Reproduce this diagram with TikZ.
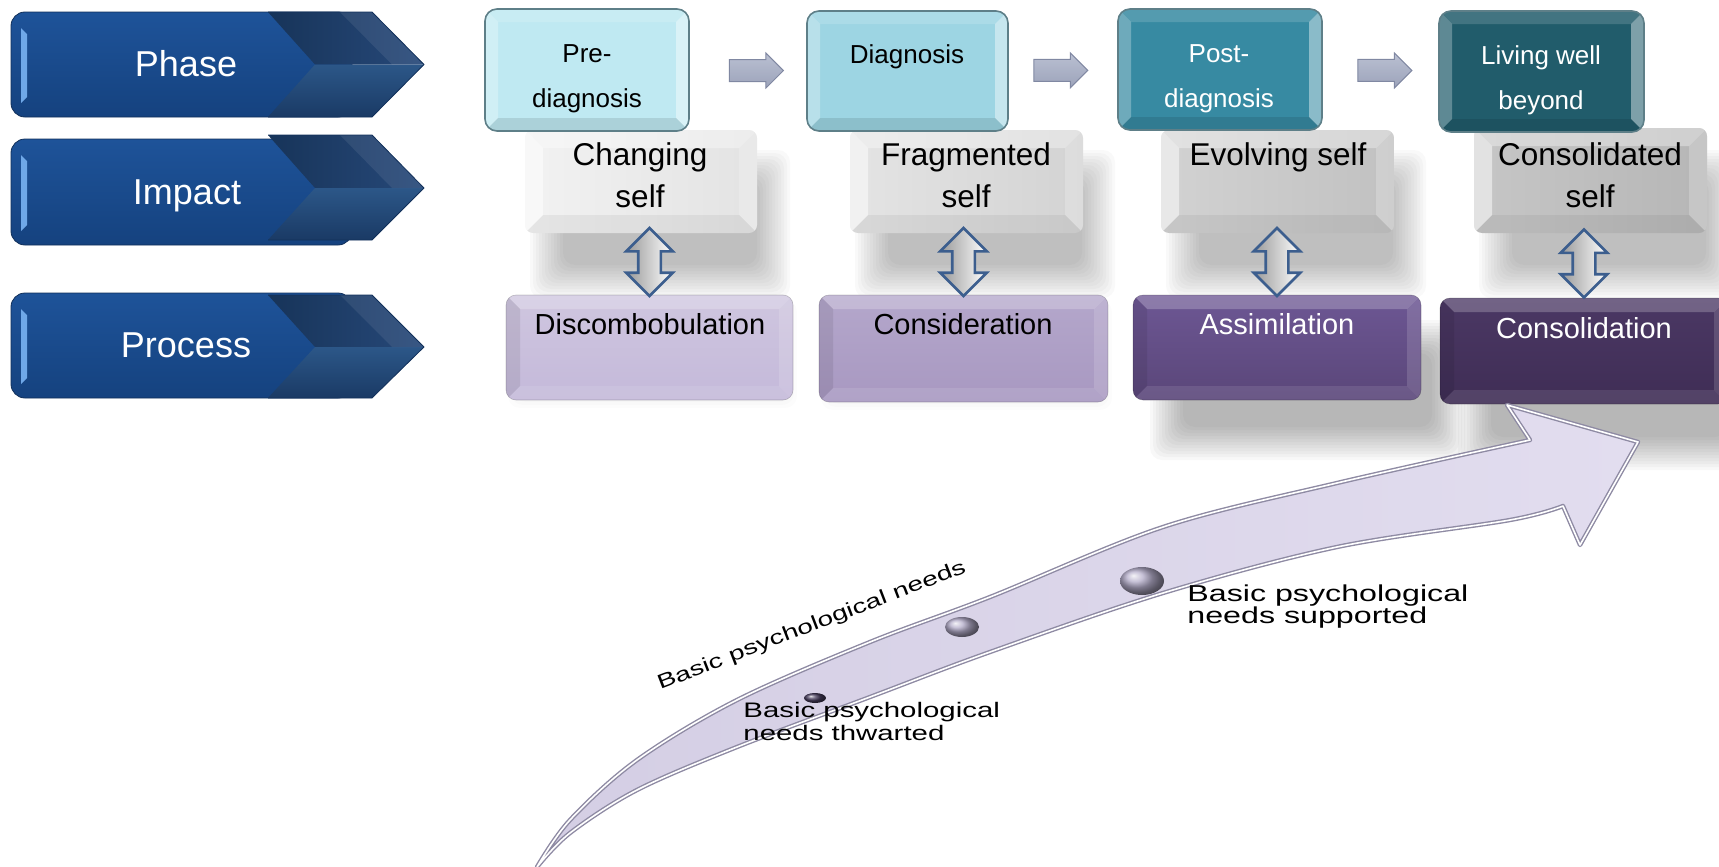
\documentclass[tikz,border=0pt]{standalone}
\usepackage{fontspec}
\setmainfont{Liberation Sans}
\newfontfamily\widesans[FakeStretch=1.4]{Liberation Sans}
\usetikzlibrary{shapes.arrows,fit}

% chevron labels
\definecolor{chevA}{HTML}{1E5399}
\definecolor{chevB}{HTML}{15427F}
\definecolor{chevEdge}{HTML}{12305A}
\definecolor{chevHi}{HTML}{6FA8E8}
\definecolor{facetA}{HTML}{173459}
\definecolor{facetB}{HTML}{27497A}
\definecolor{facetC}{HTML}{2C5788}
\definecolor{facetD}{HTML}{1A3A65}
% phase boxes
\definecolor{phA}{HTML}{BFE9F2}
\definecolor{phB}{HTML}{9DD5E3}
\definecolor{phC}{HTML}{378AA2}
\definecolor{phD}{HTML}{215C6B}
\definecolor{phEdge}{HTML}{5E7F88}
% impact boxes
\definecolor{imA1}{HTML}{F2F2F2}\definecolor{imA2}{HTML}{E3E3E3}
\definecolor{imB1}{HTML}{E4E4E4}\definecolor{imB2}{HTML}{D3D3D3}
\definecolor{imC1}{HTML}{D2D2D2}\definecolor{imC2}{HTML}{C1C1C1}
\definecolor{imD1}{HTML}{C6C6C6}\definecolor{imD2}{HTML}{B6B6B6}
% process boxes
\definecolor{prA1}{HTML}{CFC6DF}\definecolor{prA2}{HTML}{C4B9DA}
\definecolor{prB1}{HTML}{B4A7CB}\definecolor{prB2}{HTML}{A898C1}
\definecolor{prC1}{HTML}{6D5794}\definecolor{prC2}{HTML}{5A4679}
\definecolor{prD1}{HTML}{4B3864}\definecolor{prD2}{HTML}{3F2D55}
% connectors
\definecolor{gaTop}{HTML}{BAC0D2}
\definecolor{gaBot}{HTML}{9CA3BA}
\definecolor{gaEdge}{HTML}{8088A2}
\definecolor{dblEdge}{HTML}{3C5E8E}
% needs arrow
\definecolor{naA}{HTML}{D4CEE4}
\definecolor{naB}{HTML}{E2DDEF}
\definecolor{naEdge}{HTML}{8E8AA3}
\definecolor{bead}{HTML}{B3ACC9}
\definecolor{beadDark}{HTML}{463C5C}

\tikzset{
  ph-shape/.style={rounded corners=6pt},
  ph-top/.style={fill=white, fill opacity=0.15},
  ph-left/.style={fill=white, fill opacity=0.28},
  ph-right/.style={fill=white, fill opacity=0.42},
  ph-bot/.style={fill=black, fill opacity=0.10},
  ph-edge/.style={draw=phEdge, line width=0.8pt},
  im-shape/.style={rounded corners=4pt},
  im-top/.style={fill=white, fill opacity=0.35},
  im-left/.style={fill=white, fill opacity=0.5},
  im-right/.style={fill=white, fill opacity=0.22},
  im-bot/.style={fill=black, fill opacity=0.05},
  im-edge/.style={draw=none},
  pr-shape/.style={rounded corners=5pt},
  pr-top/.style={fill=white, fill opacity=0.22},
  pr-left/.style={fill=black, fill opacity=0.08},
  pr-right/.style={fill=white, fill opacity=0.14},
  pr-bot/.style={fill=white, fill opacity=0.10},
  pr-edge/.style={draw=black, draw opacity=0.2, line width=0.3pt},
  lbl/.style={text=white, font=\fontsize{18}{22}\selectfont, inner sep=0pt, anchor=base},
  phtxt/.style={font=\fontsize{13}{22.5}\selectfont, align=center, inner sep=0pt},
  imtxt/.style={font=\fontsize{15.75}{21}\selectfont, align=center, inner sep=0pt},
  prtxt/.style={font=\fontsize{14.5}{18}\selectfont, inner sep=0pt, anchor=base},
  grayarrow/.style={single arrow, minimum height=27pt, minimum width=17pt,
    single arrow head extend=3.25pt, inner xsep=0pt, inner ysep=5.25pt, top color=gaTop,
    bottom color=gaBot, draw=gaEdge, line width=0.5pt},
  dblarrow/.style={double arrow, rotate=90, minimum height=34pt, minimum width=22pt,
    double arrow head extend=6pt, inner xsep=0pt, inner ysep=5pt, draw=dblEdge, line width=1.3pt,
    left color=black!40, right color=white},
  needsarrow/.style={left color=naA, right color=naB},
  needstxt/.style={inner sep=0pt, align=left},
}

% bevelled box: name, x1, y1, x2, y2, base fill, bevel width, style family
\newcommand\bevelbox[8]{%
  \node[fit={(#2,#3) (#4,#5)}, inner sep=0pt, outer sep=0pt] (#1) {};
  \begin{scope}
    \clip[#8-shape] (#2,#3) rectangle (#4,#5);
    \path[#6] (#2,#3) rectangle (#4,#5);
    \fill[#8-top] (#2,#3) -- (#4,#3) -- (#4-#7,#3+#7) -- (#2+#7,#3+#7) -- cycle;
    \fill[#8-left] (#2,#3) -- (#2+#7,#3+#7) -- (#2+#7,#5-#7) -- (#2,#5) -- cycle;
    \fill[#8-right] (#4,#3) -- (#4-#7,#3+#7) -- (#4-#7,#5-#7) -- (#4,#5) -- cycle;
    \fill[#8-bot] (#2,#5) -- (#2+#7,#5-#7) -- (#4-#7,#5-#7) -- (#4,#5) -- cycle;
  \end{scope}
  \path[#8-shape, #8-edge] (#2,#3) rectangle (#4,#5);
}

% soft blurred shadow: x1, y1, x2, y2, opacity per layer
\newcommand\softshadow[5]{%
  \foreach \k in {0,...,11}{%
    \fill[black, fill opacity=#5, rounded corners=6pt]
      (#1+3*\k,#2+3*\k) rectangle (#3-3*\k,#4-3*\k);
  }%
}

% chevron label bar: rect top, rect bottom, chevron top, chevron bottom, tip y
\newcommand\chevronbar[5]{%
  \path[top color=chevA, bottom color=chevB, draw=chevEdge, line width=0.4pt,
        rounded corners=7pt] (11,#1) rectangle (352,#2);
  \fill[chevHi] (21,#1+16) -- (27,#1+22) -- (27,#2-20) -- (21,#2-14) -- cycle;
  \path[left color=facetA, right color=facetB] (268,#3) -- (372,#3) -- (424,#5) -- (315,#5) -- cycle;
  \path[top color=facetC, bottom color=facetD] (315,#5) -- (424,#5) -- (372,#4) -- (268,#4) -- cycle;
  \fill[white, fill opacity=0.08] (340,#3) -- (372,#3) -- (424,#5) -- (392,#5) -- cycle;
  \draw[chevEdge, line width=0.4pt, line join=round]
    (268,#3) -- (372,#3) -- (424,#5) -- (372,#4) -- (268,#4);
}

\begin{document}
\begin{tikzpicture}[x=0.5pt,y=-0.5pt]
\useasboundingbox (0,0) rectangle (1719,867);
\clip (0,0) rectangle (1719,867);

% ---- row labels
\chevronbar{12}{117}{12}{117}{64.5}
\chevronbar{139}{245}{135}{240}{188}
\chevronbar{293}{398}{295}{398}{347}
\node[lbl] (lphase) at (186,76) {Phase};
\node[lbl] (limpact) at (187,204) {Impact};
\node[lbl] (lprocess) at (186,357) {Process};

% ---- shadows
\softshadow{530}{150}{790}{298}{0.022}
\softshadow{855}{150}{1115}{298}{0.022}
\softshadow{1166}{150}{1426}{298}{0.024}
\softshadow{1479}{150}{1739}{298}{0.024}
\softshadow{508}{300}{797}{408}{0.012}
\softshadow{821}{300}{1112}{410}{0.012}
\softshadow{1150}{320}{1465}{460}{0.026}
\softshadow{1458}{325}{1760}{470}{0.026}

% ---- impact boxes
\bevelbox{i1}{525}{130}{757}{233}{left color=imA1, right color=imA2}{18}{im}
\bevelbox{i2}{850}{130}{1083}{233}{left color=imB1, right color=imB2}{18}{im}
\bevelbox{i3}{1161}{130}{1394}{233}{left color=imC1, right color=imC2}{18}{im}
\bevelbox{i4}{1474}{128}{1707}{233}{left color=imD1, right color=imD2}{18}{im}

% ---- phase boxes
\bevelbox{p1}{485}{9}{689}{131}{fill=phA}{13}{ph}
\bevelbox{p2}{807}{11}{1008}{131}{fill=phB}{13}{ph}
\bevelbox{p3}{1118}{9}{1322}{130}{fill=phC}{13}{ph}
\bevelbox{p4}{1439}{11}{1644}{132}{fill=phD}{13}{ph}

% ---- process boxes
\bevelbox{r1}{506}{295}{793}{400}{top color=prA1, bottom color=prA2}{14}{pr}
\bevelbox{r2}{819}{295}{1108}{402}{top color=prB1, bottom color=prB2}{14}{pr}
\bevelbox{r3}{1133}{295}{1421}{400}{top color=prC1, bottom color=prC2}{14}{pr}
\bevelbox{r4}{1440}{298}{1728}{404}{top color=prD1, bottom color=prD2}{14}{pr}

% ---- box texts
\node[phtxt, anchor=north] (tp1) at (587,44.3) {Pre-\\diagnosis};
\node[phtxt, anchor=base] (tp2) at (907,63) {Diagnosis};
\node[phtxt, anchor=north, text=white] (tp3) at (1219,44.3) {Post-\\diagnosis};
\node[phtxt, anchor=north, text=white] (tp4) at (1541,45.3) {Living well\\beyond};

\node[imtxt, anchor=north] (ti1) at (640,142.3) {Changing\\self};
\node[imtxt, anchor=north] (ti2) at (966,142.3) {Fragmented\\self};
\node[imtxt, anchor=base] (ti3) at (1278,165) {Evolving self};
\node[imtxt, anchor=north] (ti4) at (1590,142.3) {Consolidated\\self};

\node[prtxt] (tr1) at (650,334) {Discombobulation};
\node[prtxt] (tr2) at (963,334) {Consideration};
\node[prtxt, text=white] (tr3) at (1277,334) {Assimilation};
\node[prtxt, text=white] (tr4) at (1584,338) {Consolidation};

% ---- phase-to-phase arrows
\path (p1.east) -- (p2.west) node[pos=0.525, grayarrow] (a12) {};
\path (p2.east) -- (p3.west) node[pos=0.43, grayarrow] (a23) {};
\path (p3.east) -- (p4.west) node[pos=0.49, grayarrow] (a34) {};

% ---- impact <-> process arrows
\path (i1.south -| r1.north) -- (r1.north) node[midway, yshift=1pt, dblarrow] (d1) {};
\path (i2.south -| r2.north) -- (r2.north) node[midway, yshift=1pt, dblarrow] (d2) {};
\path (i3.south -| r3.north) -- (r3.north) node[midway, yshift=1pt, dblarrow] (d3) {};
\path (i4.south -| r4.north) -- (r4.north) node[midway, yshift=1pt, dblarrow] (d4) {};

% ---- rising needs arrow
\def\needspath{(537,867) -- plot[smooth, tension=0.55] coordinates {(537,867) (570,820) (637,760) (737,700) (870,642) (990,597) (1163,527) (1337,483) (1530,440)}
  -- (1507,405) -- (1638,442) -- (1580,545) -- (1563,506)
  -- plot[smooth, tension=0.55] coordinates {(1563,506) (1510,520) (1337,547) (1163,593) (990,652) (870,697) (737,747) (637,790) (570,833) (537,867)} -- cycle}
\path[needsarrow] \needspath;
\draw[naEdge, line width=2.2pt, line join=round] \needspath;
\draw[white, line width=0.8pt, line join=round] \needspath;

% beads on the arrow
\shade[ball color=beadDark] (815,698) ellipse [x radius=11, y radius=5];
\shade[ball color=bead] (962,627) ellipse [x radius=17, y radius=10];
\shade[ball color=bead] (1142,581) ellipse [x radius=22, y radius=14];

% ---- arrow labels
\node[needstxt, font=\widesans\fontsize{10}{12}\selectfont, anchor=base west, rotate=21] (needs) at (660,690) {Basic psychological needs};
\node[needstxt, font=\widesans\fontsize{10.5}{11.5}\selectfont, anchor=north west] (thw) at (743,702) {Basic psychological\\needs thwarted};
\node[needstxt, font=\widesans\fontsize{11.5}{11}\selectfont, anchor=north west] (sup) at (1187,584.4) {Basic psychological\\needs supported};

\end{tikzpicture}
\end{document}
